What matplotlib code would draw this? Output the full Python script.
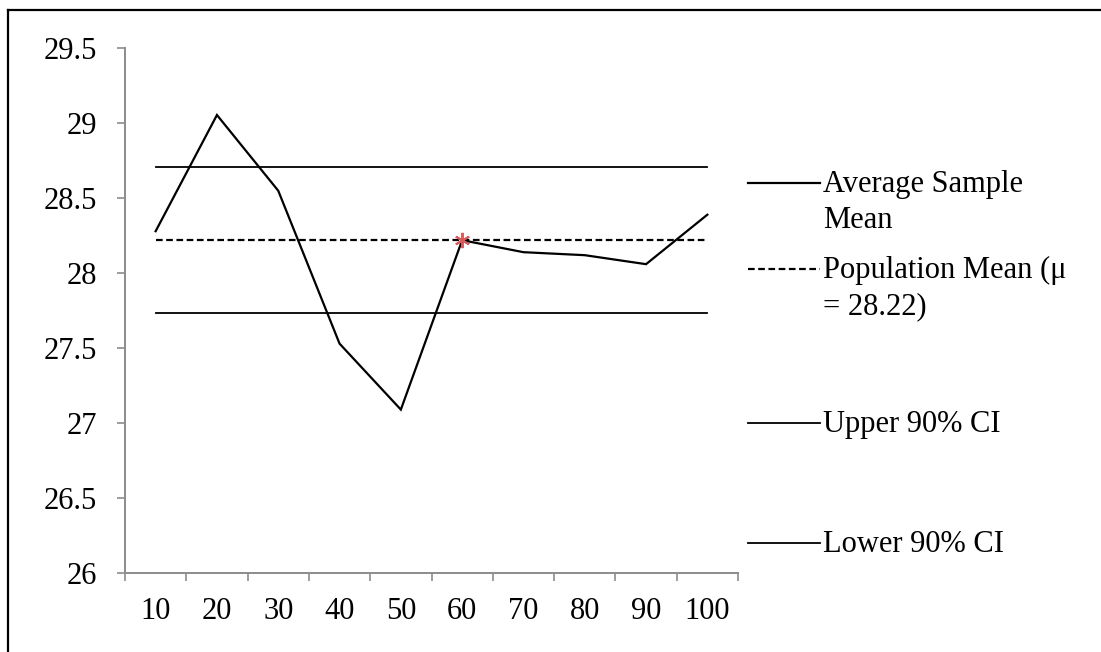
import matplotlib
matplotlib.use("Agg")
import matplotlib.pyplot as plt
from matplotlib.lines import Line2D

categories = ["10", "20", "30", "40", "50", "60", "70", "80", "90", "100"]
sample_mean = [28.28, 29.055, 28.55, 27.53, 27.09, 28.22, 28.14, 28.12, 28.06, 28.39]
population_mean = 28.22
upper_ci = 28.71
lower_ci = 27.733
y_ticks = [26, 26.5, 27, 27.5, 28, 28.5, 29, 29.5]
y_tick_labels = ["26", "26.5", "27", "27.5", "28", "28.5", "29", "29.5"]
legend_labels = ["Average Sample\nMean", "Population Mean (\u03bc\n= 28.22)", "Upper 90% CI", "Lower 90% CI"]

plt.rcParams['font.family'] = ['Liberation Serif', 'DejaVu Serif']
W, H = 1101, 652
fig = plt.figure(figsize=(W / 100, H / 100), dpi=100)
ax = fig.add_axes([125 / W, 1 - 573 / H, (738 - 125) / W, (573 - 48.3) / H])

n = len(categories)
xs = [i + 0.5 for i in range(n)]
ax.plot(xs, sample_mean, color='black', lw=1.6, solid_joinstyle='miter', zorder=3)
ax.plot([xs[0], xs[-1]], [population_mean] * 2, color='black', lw=1.6, ls=(0, (3, 1.6)), zorder=2)
ax.plot([xs[0], xs[-1]], [upper_ci] * 2, color='black', lw=1.3, zorder=2)
ax.plot([xs[0], xs[-1]], [lower_ci] * 2, color='black', lw=1.3, zorder=2)
idx = categories.index("60")
ax.plot([xs[idx]], [sample_mean[idx]], marker=(6, 2, 0), ms=11, mec='#d65a5a', mew=1.4, color='#d65a5a', zorder=4)

ax.set_xlim(0, n)
ax.set_ylim(26, 29.5)
ax.set_xticks(range(n + 1))
ax.set_xticklabels([])
ax.set_xticks(xs, minor=True)
ax.set_xticklabels(categories, minor=True)
ax.tick_params(axis='x', which='major', length=6, width=1.2, color='#8c8c8c', direction='out')
ax.tick_params(axis='x', which='minor', length=0, pad=17, labelsize=22)
ax.set_yticks(y_ticks)
ax.set_yticklabels(y_tick_labels)
ax.tick_params(axis='y', length=6, width=1.2, color='#8c8c8c', direction='out', pad=14, labelsize=22)
for s in ['top', 'right']:
    ax.spines[s].set_visible(False)
for s in ['left', 'bottom']:
    ax.spines[s].set_color('#8c8c8c')
    ax.spines[s].set_linewidth(1.4)

# legend drawn manually
leg_y = [183, 269, 423, 543]
styles = [dict(ls='-', lw=1.6), dict(ls=(0, (3, 1.6)), lw=1.6), dict(ls='-', lw=1.3), dict(ls='-', lw=1.3)]
for y, lab, st in zip(leg_y, legend_labels, styles):
    fy = 1 - y / H
    fig.add_artist(Line2D([748 / W, 820 / W], [fy, fy], color='black', transform=fig.transFigure, **st))
    fig.text(823 / W, fy + 13 / H, lab, fontsize=22, va='top', ha='left', linespacing=1.32,
             transform=fig.transFigure)

# outer frame (left and top visible)
fig.add_artist(Line2D([8 / W, 8 / W], [0, 1 - 10 / H], color='black', lw=1.6, transform=fig.transFigure))
fig.add_artist(Line2D([8 / W, 1], [1 - 10 / H, 1 - 10 / H], color='black', lw=1.6, transform=fig.transFigure))

fig.savefig('out.png', dpi=100, facecolor='white')
